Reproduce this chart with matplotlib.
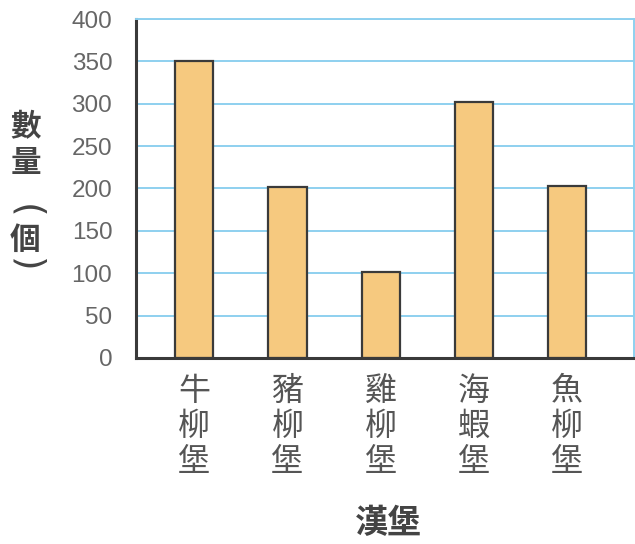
import matplotlib.pyplot as plt

# data
burgers = ["牛柳堡", "豬柳堡", "雞柳堡", "海蝦堡", "魚柳堡"]
counts = [350, 202, 102, 302, 203]
y_ticks = [0, 50, 100, 150, 200, 250, 300, 350, 400]

cjk = ["Noto Sans CJK TC", "DejaVu Sans"]

fig = plt.figure(figsize=(6.35, 5.44), dpi=100)
ax = fig.add_axes([0.214, 0.342, 0.785, 0.623])

x = range(len(burgers))
ax.bar(x, counts, width=0.41, color="#F6C97F", edgecolor="#3a3a3a",
       linewidth=1.6, zorder=3)

ax.set_ylim(0, 400)
ax.set_xlim(-0.625, 4.72)
ax.set_yticks(y_ticks)
ax.set_yticklabels([str(v) for v in y_ticks], family="Liberation Sans",
                   fontsize=17.5, color="#666666")
ax.set_xticks(list(x))
ax.set_xticklabels(["\n".join(b) for b in burgers], family=cjk,
                   fontsize=23, color="#555555", linespacing=1.14,
                   va="top", fontweight="light")
ax.tick_params(axis="y", length=0, pad=17)
ax.tick_params(axis="x", length=0, pad=12)

ax.yaxis.grid(True, color="#8ED0EF", linewidth=1.4, zorder=0)
ax.set_axisbelow(True)

for side in ["left", "bottom"]:
    ax.spines[side].set_color("#3a3a3a")
    ax.spines[side].set_linewidth(2.2)
for side in ["top", "right"]:
    ax.spines[side].set_color("#8ED0EF")
    ax.spines[side].set_linewidth(1.4)
ax.spines["bottom"].set_zorder(4)

# axis titles (vertical, one glyph per line; brackets turned on their side)
title_style = dict(family=cjk, fontweight="bold", color="#444444",
                   ha="center", va="center")
fig.text(0.04, 0.733, "數\n量", fontsize=22, linespacing=1.15, **title_style)
fig.text(0.04, 0.559, "個", fontsize=22, **title_style)
paren_style = dict(family="DejaVu Sans", color="#444444", fontsize=27,
                   rotation=-90, ha="center", va="center")
fig.text(0.04, 0.612, "(", **paren_style)
fig.text(0.04, 0.513, ")", **paren_style)
fig.text(0.611, 0.038, "漢堡", fontsize=24, **title_style)

fig.savefig("out.png", dpi=100)
